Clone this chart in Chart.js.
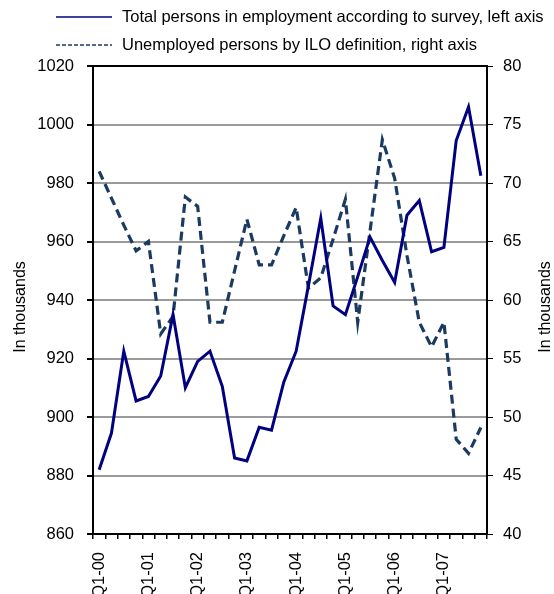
<!DOCTYPE html>
<html>
<head>
<meta charset="utf-8">
<style>
html, body { margin: 0; padding: 0; background: #fff; }
#wrap { width: 554px; height: 594px; position: relative; overflow: hidden; }
</style>
</head>
<body>
<div id="wrap"><canvas id="chart" width="554" height="594"></canvas></div>
<script src="https://cdn.jsdelivr.net/npm/chart.js@4.4.1/dist/chart.umd.min.js"></script>
<script>
// Data
const quarters = [
    'Q1-00', 'Q2-00', 'Q3-00', 'Q4-00', 'Q1-01', 'Q2-01', 'Q3-01', 'Q4-01',
    'Q1-02', 'Q2-02', 'Q3-02', 'Q4-02', 'Q1-03', 'Q2-03', 'Q3-03', 'Q4-03',
    'Q1-04', 'Q2-04', 'Q3-04', 'Q4-04', 'Q1-05', 'Q2-05', 'Q3-05', 'Q4-05',
    'Q1-06', 'Q2-06', 'Q3-06', 'Q4-06', 'Q1-07', 'Q2-07', 'Q3-07', 'Q4-07'
];
const employed = [
    882, 894.5, 922.5, 905.5, 907, 914, 935, 910,
    919, 922.5, 910.5, 886, 885, 896.5, 895.5, 912,
    922.5, 945, 968, 938, 935, 948, 961.5, 953.5,
    946, 969, 974, 956.5, 958, 994.5, 1006, 982.5
];
const unemployed = [
    71, 68.7, 66.4, 64.2, 65, 57.1, 58.6, 68.8,
    68, 58.1, 58.1, 62.5, 66.9, 63, 63, 65.5,
    67.9, 61, 61.9, 65.2, 68.6, 58.1, 65.9, 73.7,
    70.4, 63.8, 58.1, 56, 58.1, 48.1, 46.9, 49.1
];
const seriesNames = [
    'Total persons in employment according to survey, left axis',
    'Unemployed persons by ILO definition, right axis'
];
const axisTitle = 'In thousands';

const FONT = "'Liberation Sans', Arial, sans-serif";

// Legend, top border and axis titles
const extras = {
    id: 'extras',
    afterDraw(chart) {
        const { ctx, chartArea: a } = chart;
        ctx.save();

        // top border of the plot box
        ctx.strokeStyle = '#000';
        ctx.lineWidth = 2;
        ctx.beginPath();
        ctx.moveTo(a.left - 1, a.top);
        ctx.lineTo(a.right + 1, a.top);
        ctx.stroke();

        // legend
        ctx.font = '16.5px ' + FONT;
        ctx.textBaseline = 'middle';
        ctx.fillStyle = '#000';
        chart.data.datasets.forEach((ds, i) => {
            const y = 17 + i * 28;
            ctx.strokeStyle = ds.borderColor;
            ctx.lineWidth = 1.6;
            ctx.setLineDash(ds.borderDash ? [4, 2] : []);
            ctx.beginPath();
            ctx.moveTo(56, y);
            ctx.lineTo(112, y);
            ctx.stroke();
            ctx.fillText(ds.label, 122, y);
        });
        ctx.setLineDash([]);

        // axis titles (both read bottom to top)
        const midY = 307;
        [21, 546].forEach(x => {
            ctx.save();
            ctx.translate(x, midY);
            ctx.rotate(-Math.PI / 2);
            ctx.textAlign = 'center';
            ctx.textBaseline = 'middle';
            ctx.font = '16px ' + FONT;
            ctx.fillText(axisTitle, 0, 0);
            ctx.restore();
        });

        ctx.restore();
    }
};

const ctx = document.getElementById('chart').getContext('2d');
new Chart(ctx, {
    type: 'line',
    data: {
        labels: quarters,
        datasets: [{
            label: seriesNames[0],
            data: employed,
            yAxisID: 'y',
            borderColor: '#000080',
            borderWidth: 3,
            pointRadius: 0,
            tension: 0,
            fill: false
        }, {
            label: seriesNames[1],
            data: unemployed,
            yAxisID: 'y1',
            borderColor: '#1b3a62',
            borderWidth: 3.2,
            borderDash: [9, 5],
            pointRadius: 0,
            tension: 0,
            fill: false
        }]
    },
    options: {
        responsive: false,
        animation: false,
        layout: { padding: { top: 66, left: 0, right: 0, bottom: 0 } },
        plugins: {
            legend: { display: false },
            tooltip: { enabled: false }
        },
        scales: {
            x: {
                type: 'category',
                offset: true,
                grid: {
                    offset: true,
                    drawOnChartArea: false,
                    tickLength: 5,
                    color: '#000',
                    tickColor: '#000',
                    lineWidth: 1.5
                },
                border: { color: '#000', width: 2 },
                ticks: {
                    autoSkip: false,
                    minRotation: 90,
                    maxRotation: 90,
                    padding: 13,
                    color: '#000',
                    font: { size: 16.5, family: FONT },
                    callback: (v, i) => (i % 4 === 0 ? quarters[i] : '')
                },
                afterFit: scale => { scale.height = 60; }
            },
            y: {
                position: 'left',
                min: 860,
                max: 1020,
                grid: {
                    color: '#9a9a9a',
                    lineWidth: 2,
                    tickColor: '#000',
                    tickLength: 6
                },
                border: { color: '#000', width: 2 },
                ticks: {
                    stepSize: 20,
                    padding: 13,
                    color: '#000',
                    font: { size: 16.5, family: FONT },
                    callback: v => String(v)
                },
                afterFit: scale => { scale.width = 93; }
            },
            y1: {
                position: 'right',
                min: 40,
                max: 80,
                grid: {
                    drawOnChartArea: false,
                    tickColor: '#000',
                    color: '#000',
                    tickLength: 6
                },
                border: { color: '#000', width: 2 },
                ticks: {
                    stepSize: 5,
                    padding: 10,
                    color: '#000',
                    font: { size: 16.5, family: FONT },
                    callback: v => String(v)
                },
                afterFit: scale => { scale.width = 67; }
            }
        }
    },
    plugins: [extras]
});
</script>
</body>
</html>
